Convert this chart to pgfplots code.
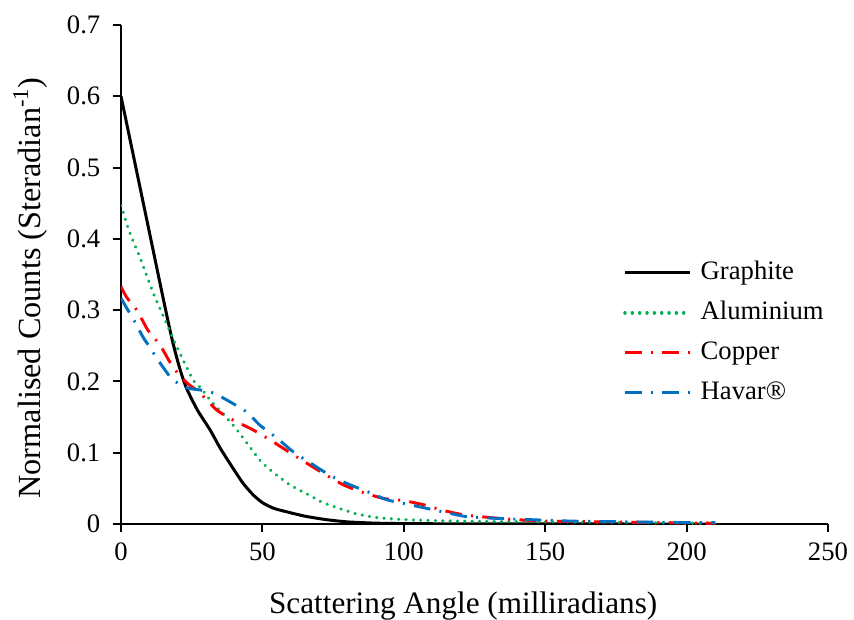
\documentclass[border=0pt]{standalone}
\usepackage{pgfplots}
\pgfplotsset{compat=1.18}
\usepackage{pgfplotstable}
\usepackage{fontspec}
\setmainfont{Liberation Serif}
\definecolor{algreen}{HTML}{00B050}
\definecolor{cured}{HTML}{FF0000}
\definecolor{havblue}{HTML}{0070C0}

\pgfplotstableread{
x y
0 0.600
5 0.505
10 0.410
15 0.315
18 0.260
20.5 0.222
23 0.192
27 0.160
31.5 0.132
35 0.107
38.5 0.085
43 0.058
46.7 0.041
50 0.030
54 0.022
58.7 0.017
65 0.011
72.8 0.006
80 0.003
90 0.0012
100 0.0006
120 0.0002
150 0.0001
180 0
210 0
}\graphite

\pgfplotstableread{
x y
0 0.447
3 0.410
6.7 0.374
11.4 0.324
15.6 0.286
19.8 0.248
25.5 0.202
28 0.192
31.5 0.174
37.4 0.149
41 0.132
45.6 0.108
49 0.090
52.7 0.076
58.6 0.058
61 0.052
66.8 0.040
71.4 0.030
78.6 0.020
83.5 0.014
90.5 0.009
101 0.006
120 0.004
150 0.003
180 0.002
210 0.001
}\alum

\pgfplotstableread{
x y
0 0.333
2 0.318
5.6 0.300
9.5 0.272
13.8 0.251
18.4 0.220
23.3 0.198
27.9 0.184
33.8 0.160
39.6 0.146
46.7 0.132
52.7 0.118
59 0.102
65.8 0.085
72 0.070
78.6 0.055
85 0.045
92.6 0.036
99.7 0.033
107 0.027
114 0.019
121 0.013
128 0.010
136.5 0.007
150 0.004
170 0.003
190 0.002
210 0.001
}\copper

\pgfplotstableread{
x y
0 0.317
2 0.303
5 0.283
7.8 0.262
10.2 0.248
12.6 0.233
16.3 0.212
18.4 0.202
23.3 0.191
28 0.188
32.5 0.184
37.4 0.174
44.5 0.157
49 0.139
55 0.121
61 0.101
68 0.083
74 0.068
81 0.055
88 0.044
94 0.034
101 0.028
108 0.022
115 0.016
123 0.010
139 0.007
160 0.004
180 0.003
200 0.002
210 0.002
}\havar

\begin{document}
\begin{tikzpicture}
\begin{axis}[
  scale only axis,
  width=530.25pt, height=374.25pt,
  xmin=0, xmax=250, ymin=0, ymax=0.7,
  xtick={0,50,100,150,200,250},
  ytick={0,0.1,0.2,0.3,0.4,0.5,0.6,0.7},
  axis lines*=left,
  axis line style={-, line width=1.5pt},
  tick align=outside,
  major tick length=6pt,
  tick style={line width=1.5pt, black},
  /pgf/number format/assume math mode=true,
  yticklabel style={/pgf/number format/fixed, /pgf/number format/precision=1, xshift=-6pt},
  xticklabel style={yshift=-4.5pt},
  font=\fontsize{20}{24}\selectfont,
  tick label style={font=\fontsize{20}{24}\selectfont},
  xlabel={Scattering Angle (milliradians)},
  ylabel={Normalised Counts (Steradian\textsuperscript{-1})},
  xlabel style={at={(axis description cs:0.484,-0.164)}, anchor=center, font=\fontsize{23.4}{28}\selectfont},
  ylabel style={at={(axis description cs:-0.1287,0.473)}, anchor=center, font=\fontsize{24.2}{29}\selectfont},
  legend style={draw=none, fill=none, at={(axis description cs:0.71,0.528)}, anchor=north west,
    font=\fontsize{20}{24}\selectfont, row sep=12pt, column sep=6.5pt, inner sep=0pt,
    nodes={inner sep=0pt, text height=14pt, text depth=4pt}},
  legend cell align=left,
  legend image code/.code={\draw[#1] (0pt,0pt) -- (49pt,0pt);},
]
\addplot[black, line width=2.25pt, smooth, tension=0.4] table {\graphite};
\addlegendentry{Graphite}
\addplot[algreen, line width=2.6pt, line cap=round, dash pattern=on 0.01pt off 5.5pt, smooth, tension=0.4] table {\alum};
\addlegendentry{Aluminium}
\addplot[cured, line width=2.2pt, dash pattern=on 12.5pt off 7pt on 1.5pt off 7pt, smooth, tension=0.4] table {\copper};
\addlegendentry{Copper}
\addplot[havblue, line width=2.2pt, dash pattern=on 12.5pt off 7pt on 1.5pt off 7pt, smooth, tension=0.4] table {\havar};
\addlegendentry{Havar®}
\end{axis}
\pgfresetboundingbox
\path (-90.75pt,-71.25pt) rectangle (549.75pt,393pt);
\end{tikzpicture}
\end{document}
